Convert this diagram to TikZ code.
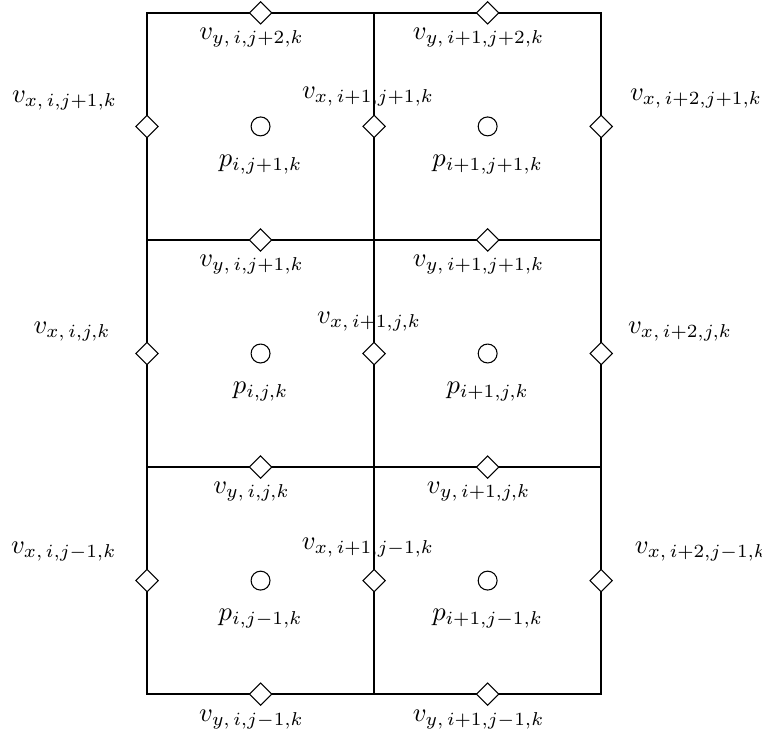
\documentclass[tikz,border=0pt]{standalone}
\usetikzlibrary{shapes.geometric}
\begin{document}
\begin{tikzpicture}[
  gridline/.style={line width=0.9pt},
  vel/.style={diamond, draw, fill=white, line width=0.4pt, minimum size=0.3cm, inner sep=0pt},
  pres/.style={circle, draw, fill=white, line width=0.4pt, minimum size=0.25cm, inner sep=0pt},
  lbl/.style={inner sep=0pt}
]
\useasboundingbox (-1.942,-0.50) rectangle (8.124,9.17);

% staggered grid: 2 x 3 cells of 3cm
\draw[gridline] (0,0) rectangle (6,9);
\draw[gridline] (3,0) -- (3,9);
\draw[gridline] (0,3) -- (6,3);
\draw[gridline] (0,6) -- (6,6);

% pressure points at cell centres
\foreach \c in {0,1}
  \foreach \r in {0,1,2}
    \node[pres] (p-\c-\r) at (1.5+3*\c,1.5+3*\r) {};

% x-velocity points on vertical faces
\foreach \c in {0,1,2}
  \foreach \r in {0,1,2}
    \node[vel] (vx-\c-\r) at (3*\c,1.5+3*\r) {};

% y-velocity points on horizontal faces
\foreach \c in {0,1}
  \foreach \r in {0,1,2,3}
    \node[vel] (vy-\c-\r) at (1.5+3*\c,3*\r) {};

% pressure labels
\node[lbl] at ([yshift=-0.5cm]p-0-0) {$p_{i,j-1,k}$};
\node[lbl] at ([yshift=-0.5cm]p-1-0) {$p_{i+1,j-1,k}$};
\node[lbl] at ([yshift=-0.5cm]p-0-1) {$p_{i,j,k}$};
\node[lbl] at ([yshift=-0.5cm]p-1-1) {$p_{i+1,j,k}$};
\node[lbl] at ([yshift=-0.5cm]p-0-2) {$p_{i,j+1,k}$};
\node[lbl] at ([yshift=-0.5cm]p-1-2) {$p_{i+1,j+1,k}$};

% y-velocity labels
\node[lbl] at ([shift={(-0.12,-0.33)}]vy-0-0) {$v_{y,\,i,j-1,k}$};
\node[lbl] at ([shift={(-0.12,-0.33)}]vy-1-0) {$v_{y,\,i+1,j-1,k}$};
\node[lbl] at ([shift={(-0.12,-0.33)}]vy-0-1) {$v_{y,\,i,j,k}$};
\node[lbl] at ([shift={(-0.12,-0.33)}]vy-1-1) {$v_{y,\,i+1,j,k}$};
\node[lbl] at ([shift={(-0.12,-0.33)}]vy-0-2) {$v_{y,\,i,j+1,k}$};
\node[lbl] at ([shift={(-0.12,-0.33)}]vy-1-2) {$v_{y,\,i+1,j+1,k}$};
\node[lbl] at ([shift={(-0.12,-0.33)}]vy-0-3) {$v_{y,\,i,j+2,k}$};
\node[lbl] at ([shift={(-0.12,-0.33)}]vy-1-3) {$v_{y,\,i+1,j+2,k}$};

% x-velocity labels
\node[lbl] at (-1.10,1.889) {$v_{x,\,i,j-1,k}$};
\node[lbl] at (2.919,1.942) {$v_{x,\,i+1,j-1,k}$};
\node[lbl] at (7.318,1.889) {$v_{x,\,i+2,j-1,k}$};
\node[lbl] at (-0.991,4.795) {$v_{x,\,i,j,k}$};
\node[lbl] at (2.933,4.927) {$v_{x,\,i+1,j,k}$};
\node[lbl] at (7.041,4.795) {$v_{x,\,i+2,j,k}$};
\node[lbl] at (-1.09,7.847) {$v_{x,\,i,j+1,k}$};
\node[lbl] at (2.919,7.900) {$v_{x,\,i+1,j+1,k}$};
\node[lbl] at (7.252,7.873) {$v_{x,\,i+2,j+1,k}$};
\end{tikzpicture}
\end{document}
